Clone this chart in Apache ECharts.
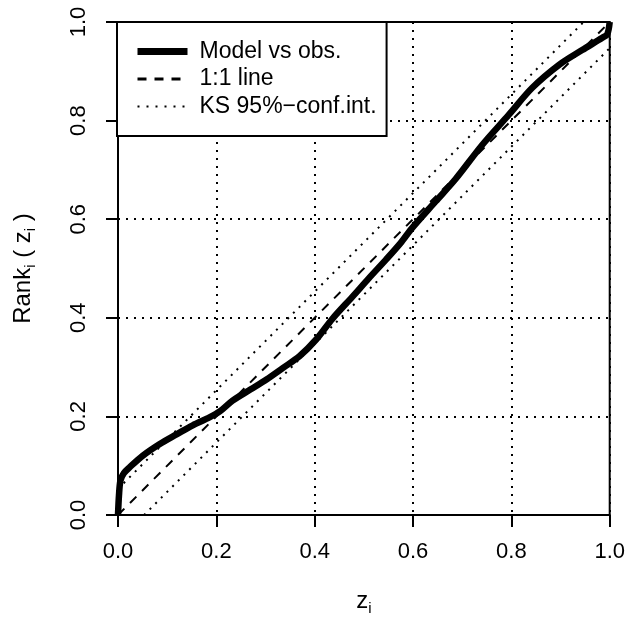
<!DOCTYPE html>
<html>
<head>
<meta charset="utf-8">
<script src="https://cdn.jsdelivr.net/npm/echarts@6/dist/echarts.min.js"></script>
<style>
  html, body { margin: 0; padding: 0; background: #fff; }
  #chart { width: 628px; height: 621px; }
</style>
</head>
<body>
<div id="chart"></div>
<script>
// Tick positions shared by both axes
const tickValues = [0, 0.2, 0.4, 0.6, 0.8, 1.0];

// Model vs observations (rank of z against z)
const modelX = [0, 0.002, 0.005, 0.012, 0.024, 0.05, 0.085, 0.12, 0.152, 0.186, 0.207, 0.233, 0.27, 0.302, 0.335, 0.369, 0.403, 0.436, 0.477, 0.51, 0.545, 0.575, 0.598, 0.646, 0.687, 0.741, 0.795, 0.842, 0.897, 0.944, 0.985, 0.995, 1.0];
const modelY = [0, 0.04, 0.07, 0.085, 0.097, 0.12, 0.144, 0.164, 0.182, 0.198, 0.21, 0.232, 0.255, 0.275, 0.298, 0.322, 0.356, 0.398, 0.443, 0.48, 0.518, 0.552, 0.582, 0.636, 0.682, 0.751, 0.812, 0.866, 0.913, 0.943, 0.968, 0.975, 1.0];

// 1:1 reference line
const identityX = [0, 1];
const identityY = [0, 1];

// Kolmogorov-Smirnov 95% band half-width
const ksHalfWidth = 0.053;
const ksLowerX = [ksHalfWidth, 1];
const ksLowerY = [0, 1 - ksHalfWidth];
const ksUpperX = [0, 1 - ksHalfWidth];
const ksUpperY = [ksHalfWidth, 1];

const seriesNames = ['Model vs obs.', '1:1 line', 'KS 95%\u2212conf.int.'];

const zip = (xs, ys) => xs.map((x, i) => [x, ys[i]]);
const FONT = '"Liberation Sans", Arial, sans-serif';
const dotted = [2, 6];
const dashed = [9, 8];

const chart = echarts.init(document.getElementById('chart'), null, { renderer: 'canvas' });

const axisCommon = {
  type: 'value',
  min: 0,
  max: 1,
  interval: 0.2,
  axisLine: { show: true, onZero: false, lineStyle: { color: '#000', width: 2 } },
  axisTick: { show: true, inside: false, length: 12, lineStyle: { color: '#000', width: 2 } },
  axisLabel: {
    color: '#000', fontFamily: FONT, fontSize: 22,
    formatter: v => v.toFixed(1)
  },
  splitLine: { show: true, lineStyle: { color: '#000', width: 2, type: dotted } },
  nameTextStyle: {
    color: '#000', fontFamily: FONT, fontSize: 24, lineHeight: 30,
    rich: { sub: { fontFamily: FONT, fontSize: 15, color: '#000', verticalAlign: 'bottom', lineHeight: 30 } }
  }
};

chart.setOption({
  animation: false,
  backgroundColor: '#fff',
  grid: {
    left: 118, top: 22, right: 17, bottom: 105,
    show: true, borderColor: '#000', borderWidth: 2, backgroundColor: 'transparent'
  },
  xAxis: Object.assign({}, axisCommon, {
    name: 'z{sub|i}',
    nameLocation: 'middle',
    nameGap: 71,
    axisLabel: Object.assign({}, axisCommon.axisLabel, { margin: 26 })
  }),
  yAxis: Object.assign({}, axisCommon, {
    name: 'Rank{sub|i} ( z{sub|i} )',
    nameLocation: 'middle',
    nameGap: 80,
    nameRotate: 90,
    axisLabel: Object.assign({}, axisCommon.axisLabel, { rotate: 90, margin: 28 })
  }),
  legend: {
    data: [
      { name: seriesNames[0], lineStyle: { width: 7, type: 'solid' } },
      { name: seriesNames[1], lineStyle: { width: 3, type: dashed } },
      { name: seriesNames[2], lineStyle: { width: 2, type: [2, 7] } }
    ],
    orient: 'vertical',
    left: 117,
    top: 22,
    padding: [18, 10, 18, 17],
    itemGap: 4.5,
    itemWidth: 50,
    itemHeight: 14,
    itemStyle: { opacity: 0 },
    backgroundColor: '#fff',
    borderColor: '#000',
    borderWidth: 2,
    borderRadius: 0,
    selectedMode: false,
    textStyle: { color: '#000', fontFamily: FONT, fontSize: 23, lineHeight: 22, padding: [0, 0, 0, 7] }
  },
  series: [
    {
      name: seriesNames[2], type: 'line', data: zip(ksLowerX, ksLowerY),
      symbol: 'none', silent: true, color: '#000',
      lineStyle: { color: '#000', width: 2, type: dotted }
    },
    {
      name: seriesNames[2], type: 'line', data: zip(ksUpperX, ksUpperY),
      symbol: 'none', silent: true, color: '#000',
      lineStyle: { color: '#000', width: 2, type: dotted }
    },
    {
      name: seriesNames[1], type: 'line', data: zip(identityX, identityY),
      symbol: 'none', silent: true, color: '#000',
      lineStyle: { color: '#000', width: 2, type: dashed }
    },
    {
      name: seriesNames[0], type: 'line', data: zip(modelX, modelY),
      symbol: 'none', silent: true, smooth: 0.3, color: '#000',
      lineStyle: { color: '#000', width: 6.5 }
    }
  ]
});
</script>
</body>
</html>
